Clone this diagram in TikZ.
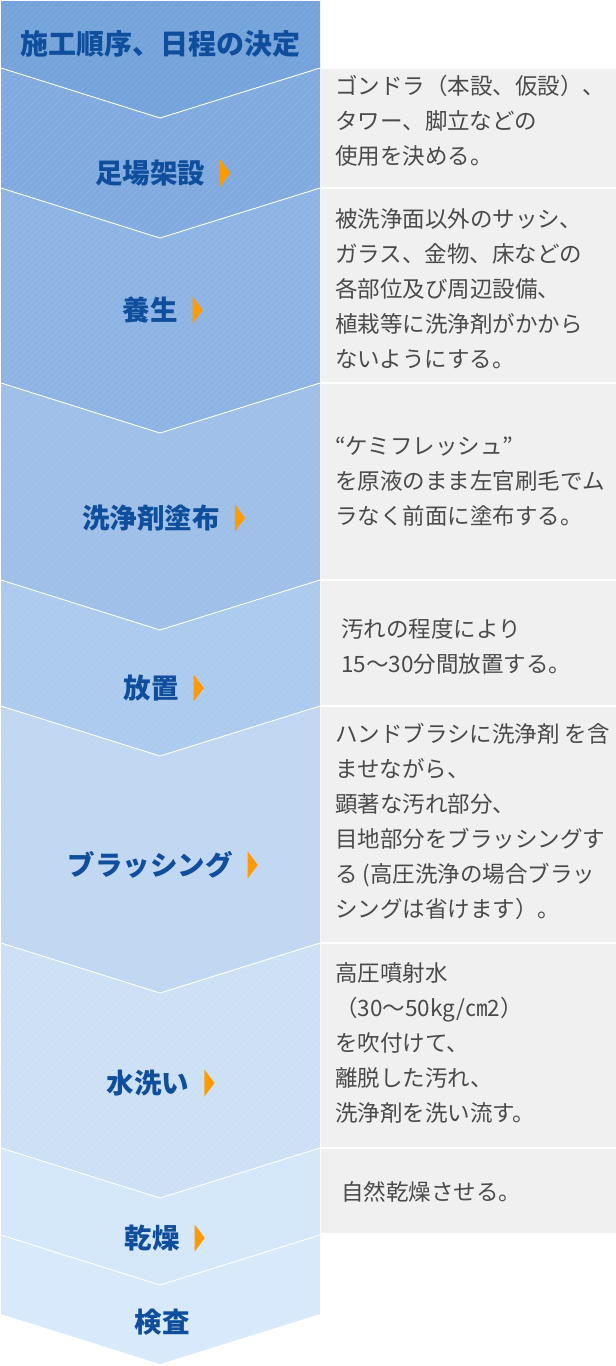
\documentclass[tikz,border=0pt]{standalone}
\usepackage{fontspec}
\newfontfamily\jp{Noto Sans CJK JP}
\usetikzlibrary{calc}
\definecolor{labc}{HTML}{0E4E9C}
\definecolor{descc}{HTML}{4A4A4A}
\definecolor{boxc}{HTML}{F0F0F0}
\definecolor{arrc}{HTML}{FF9A00}
\definecolor{c0}{HTML}{74A2DA}
\definecolor{c1}{HTML}{80AADF}
\definecolor{c2}{HTML}{8CB3E3}
\definecolor{c3}{HTML}{9DBFE8}
\definecolor{c4}{HTML}{ABCAEE}
\definecolor{c5}{HTML}{C0D7F2}
\definecolor{c6}{HTML}{CCE0F5}
\definecolor{c7}{HTML}{D4E7FA}
\definecolor{c8}{HTML}{D7E9FB}
\tikzset{
  steplabel/.style={inner sep=0pt, text=labc, font=\jp\bfseries\fontsize{27.5}{30}\selectfont},
  desc/.style={inner sep=0pt, anchor=west, align=left, text=descc, font=\jp\fontsize{22.5}{35}\selectfont},
  graybox/.style={fill=boxc, draw=none},
  sep/.style={draw=white, line width=0.9pt},
  tri/.style={fill=arrc, draw=none}
}
\newcommand{\chev}[4]{% top, bottom, colour
  \fill[#3] (1,#1) -- (160,#1+50) -- (320,#1) -- (320,#2) -- (160,#2+50) -- (1,#2) -- cycle;}
\begin{document}
\begin{tikzpicture}[x=1pt,y=-1pt]
\useasboundingbox (0,0) rectangle (616,1366);
\fill[white] (0,0) rectangle (616,1366);
% column sections
\fill[c8] (1,1235) -- (160,1285) -- (320,1235) -- (320,1314) -- (160,1364) -- (1,1314) -- cycle;
\chev{1148}{1235}{c7}{}
\chev{943}{1148}{c6}{}
\chev{706}{943}{c5}{}
\chev{580}{706}{c4}{}
\chev{383}{580}{c3}{}
\chev{188}{383}{c2}{}
\chev{68}{188}{c1}{}
\fill[c0] (1,1) -- (320,1) -- (320,68) -- (160,118) -- (1,68) -- cycle;
% subtle stripes
\begin{scope}
  \clip (1,1) -- (320,1) -- (320,1314) -- (160,1364) -- (1,1314) -- cycle;
  \foreach \k in {0,...,290} {
    \draw[white, opacity=0.06, line width=1.6pt] ({\k*6-1420},1400) -- ++(1420,-1420);
  }
\end{scope}
% separators
\foreach \b in {68,188,383,580,706,943,1148,1235} {
  \draw[sep] (1,\b) -- (160,\b+50) -- (320,\b);
}
% gray description boxes
\foreach \t/\u in {68/188,188/383,383/580,580/706,706/943,943/1148,1148/1234} {
  \fill[graybox] (321,\t+1) rectangle (616,\u-1);
}
% title and labels
\node[steplabel, font=\jp\bfseries\fontsize{28}{30}\selectfont] (s0) at (160,44) {施工順序、日程の決定};
\node[steplabel] (s1) at (150,173) {足場架設};
\node[steplabel] (s2) at (150,310) {養生};
\node[steplabel] (s3) at (151,518) {洗浄剤塗布};
\node[steplabel] (s4) at (151,688) {放置};
\node[steplabel] (s5) at (150,865) {ブラッシング};
\node[steplabel] (s6) at (148,1083) {水洗い};
\node[steplabel] (s7) at (152,1238) {乾燥};
\node[steplabel] (s8) at (162,1322) {検査};
\foreach \n in {s1,s2,s3,s4,s5,s6,s7} {
  \fill[tri] ($(\n.east)+(15,-13.5)$) -- ++(10,13.5) -- ++(-10,13.5) -- cycle;
}
% descriptions
\node[desc] (d1) at (335,121) {ゴンドラ（本設、仮設）、\\タワー、脚立などの\\使用を決める。};
\node[desc] (d2) at (335,289) {被洗浄面以外のサッシ、\\ガラス、金物、床などの\\各部位及び周辺設備、\\植栽等に洗浄剤がかから\\ないようにする。};
\node[desc] (d3) at (335,481) {“ケミフレッシュ”\\を原液のまま左官刷毛でム\\ラなく前面に塗布する。};
\node[desc] (d4) at (341,646) {汚れの程度により\\15～30分間放置する。};
\node[desc] (d5) at (335,821) {ハンドブラシに洗浄剤 を含\\ませながら、\\顕著な汚れ部分、\\目地部分をブラッシングす\\る (高圧洗浄の場合ブラッ\\シングは省けます）。};
\node[desc] (d6) at (335,1043) {高圧噴射水\\（30～50kg/㎝2）\\を吹付けて、\\離脱した汚れ、\\洗浄剤を洗い流す。};
\node[desc] (d7) at (341,1192) {自然乾燥させる。};
\end{tikzpicture}
\end{document}
